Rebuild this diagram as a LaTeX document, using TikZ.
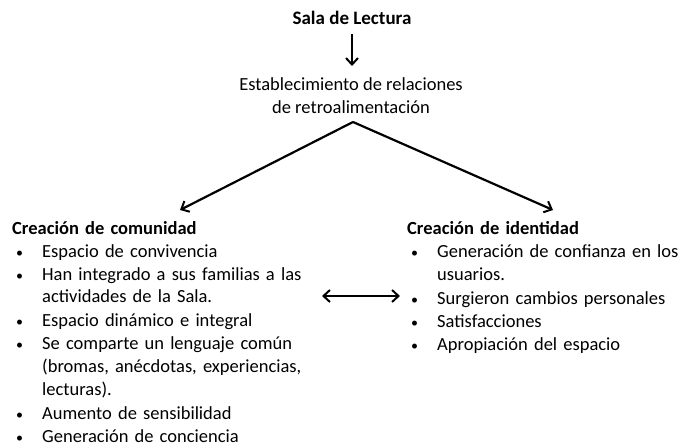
\documentclass[tikz,border=0pt]{standalone}
\usepackage{fontspec}
\setmainfont{Carlito}
\usetikzlibrary{arrows.meta}
\newcommand{\bitem}[2][300pt]{\par\noindent\makebox[30pt][l]{\hspace{4pt}{\fontsize{14}{14}\selectfont\textbullet}}\parbox[t]{#1}{\raggedright\strut #2\strut}}
\tikzset{
  txt/.style={inner sep=0pt, font=\fontsize{18.5}{23.1}\selectfont},
  col/.style={txt, anchor=north west, align=left},
  mytip/.tip={Straight Barb[length=6.5pt,width=12pt,line width=2pt]},
  arr/.style={line width=2.2pt, -{mytip}},
  darr/.style={line width=2.2pt, {mytip}-{mytip}}
}
\begin{document}
\begin{tikzpicture}[x=1pt,y=-1pt]
\useasboundingbox (0,0) rectangle (684,446);
\node[txt, font=\fontsize{19}{23.1}\selectfont\bfseries] (sala) at (352,18) {Sala de Lectura};
\node[txt, align=center] (estab) at (351,96) {Establecimiento de relaciones\\de retroalimentación};
\node[col, text width=330pt, font=\fontsize{18.5}{22.9}\selectfont] (left) at (12,218) {\noindent\textbf{Creación de comunidad}\strut
\bitem{Espacio de convivencia}
\bitem{Han integrado a sus familias a las\\actividades de la Sala.}
\bitem{Espacio dinámico e integral}
\bitem{Se comparte un lenguaje común\\(bromas, anécdotas, experiencias,\\lecturas).}
\bitem{Aumento de sensibilidad}
\bitem{Generación de conciencia}};
\node[col, text width=277pt] (right) at (407,218) {\noindent\textbf{Creación de identidad}\strut
\bitem[245pt]{Generación de confianza en los\\usuarios.}
\bitem[245pt]{Surgieron cambios personales}
\bitem[245pt]{Satisfacciones}
\bitem[245pt]{Apropiación del espacio}};
\coordinate (apex) at (353,122);
\coordinate (la) at (180,210);
\coordinate (ra) at (553,210);
\coordinate (dl) at (322,296);
\coordinate (dr) at (400,296);
\draw[arr] (sala.south |- 0,34) -- (sala.south |- 0,66);
\draw[arr] (apex) -- (la);
\draw[arr] (apex) -- (ra);
\draw[darr] (dl) -- (dr);
\end{tikzpicture}
\end{document}
